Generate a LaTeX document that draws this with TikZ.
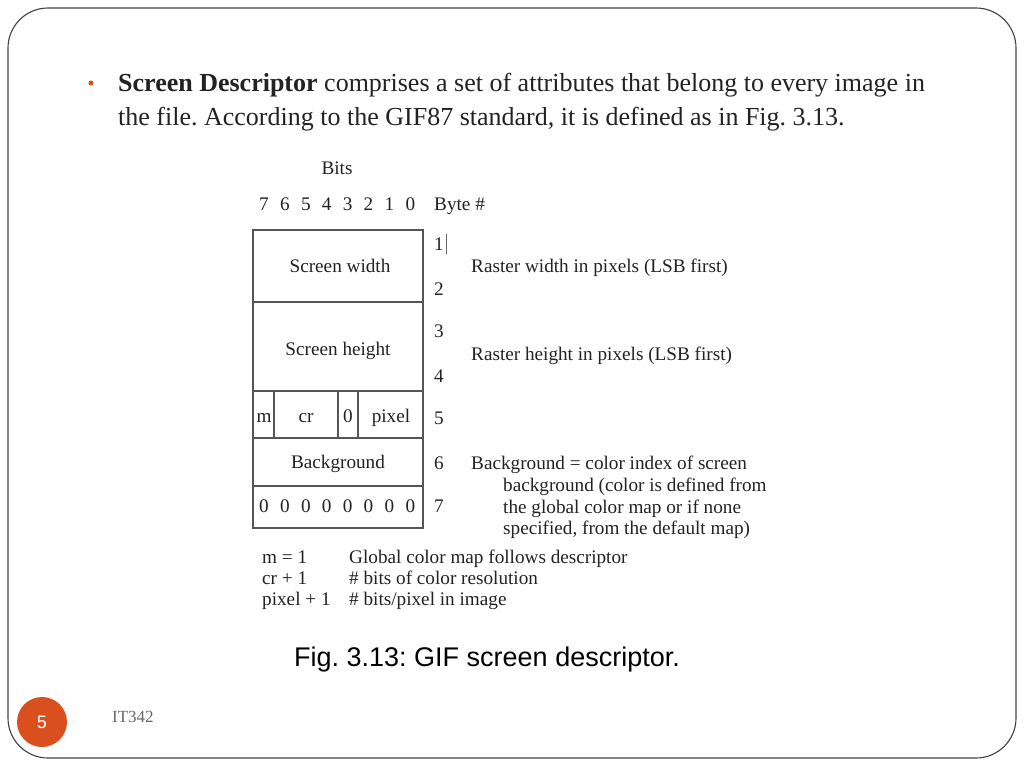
\documentclass[tikz,border=0pt]{standalone}
\usepackage{fontspec}
\setmainfont{Liberation Serif}
\newfontfamily\capfont{Liberation Sans}
\definecolor{accent}{HTML}{D9501E}
\definecolor{boxline}{HTML}{555555}
\definecolor{ink}{HTML}{222222}
\begin{document}
\frenchspacing
\begin{tikzpicture}[x=1pt,y=-1pt,
  body/.style={anchor=base west,inner sep=0pt,font=\fontsize{26}{30}\selectfont,text=ink},
  fig/.style={inner sep=0pt,font=\fontsize{19.2}{22}\selectfont,text=ink},
  cell/.style={draw=boxline,line width=1.3pt}]
\useasboundingbox (0,0) rectangle (1024,768);
% slide frame
\draw[rounded corners=40pt,draw=black!75,line width=1.1pt] (8,8) rectangle (1016,758);
% bullet text
\fill[accent] (91,83) circle (2.5);
\node[body] (l1) at (118,91) {\textbf{Screen Descriptor} comprises a set of attributes that belong to every image in};
\node[body] (l2) at (118,125) {the file. According to the GIF87 standard, it is defined as in Fig. 3.13.};
% header
\node[fig,anchor=mid] (bits) at (337,172) {Bits};
\foreach \b [count=\i from 0] in {7,6,5,4,3,2,1,0}
  \node[fig,anchor=mid] (h\i) at (264+20.9*\i,208) {\b};
\node[fig,anchor=mid west] (byte) at (434,208) {Byte \#};
% boxes
\draw[cell] (253,230) rectangle (423,302);
\draw[cell] (253,302) rectangle (423,391);
\draw[cell] (253,391) rectangle (423,438);
\draw[cell] (253,438) rectangle (423,486);
\draw[cell] (253,486) rectangle (423,528);
\draw[cell] (274,391) -- (274,438);
\draw[cell] (338,391) -- (338,438);
\draw[cell] (358,391) -- (358,438);
\node[fig,anchor=mid] (sw) at (340,270) {Screen width};
\node[fig,anchor=mid] (sh) at (338,353) {Screen height};
\node[fig,anchor=mid] (cm) at (264,420) {m};
\node[fig,anchor=mid] (ccr) at (306,420) {cr};
\node[fig,anchor=mid] (c0) at (348,420) {0};
\node[fig,anchor=mid] (cpx) at (391,420) {pixel};
\node[fig,anchor=mid] (bg) at (338,466) {Background};
\foreach \i in {0,...,7}
  \node[fig,anchor=mid] (z\i) at (264+20.9*\i,510) {0};
% byte numbers
\node[fig,anchor=mid west] (n1) at (434,248) {1};
\draw[black!60,line width=0.6pt] (446,234) -- (446,254);
\node[fig,anchor=mid west] (n2) at (434,293) {2};
\node[fig,anchor=mid west] (n3) at (434,335) {3};
\node[fig,anchor=mid west] (n4) at (434,380) {4};
\node[fig,anchor=mid west] (n5) at (434,422) {5};
\node[fig,anchor=mid west] (n6) at (434,467) {6};
\node[fig,anchor=mid west] (n7) at (434,510) {7};
% descriptions
\node[fig,anchor=mid west] (d1) at (471,270) {Raster width in pixels (LSB first)};
\node[fig,anchor=mid west] (d2) at (471,358) {Raster height in pixels (LSB first)};
\node[fig,anchor=mid west] (d3) at (471,467) {Background = color index of screen};
\node[fig,anchor=mid west] (d4) at (503,489) {background (color is defined from};
\node[fig,anchor=mid west] (d5) at (503,511) {the global color map or if none};
\node[fig,anchor=mid west] (d6) at (503,532) {specified, from the default map)};
% legend
\node[fig,anchor=mid west] (k1) at (262,561) {m = 1};
\node[fig,anchor=mid west] (v1) at (349,561) {Global color map follows descriptor};
\node[fig,anchor=mid west] (k2) at (262,582) {cr + 1};
\node[fig,anchor=mid west] (v2) at (349,582) {\# bits of color resolution};
\node[fig,anchor=mid west] (k3) at (262,603) {pixel + 1};
\node[fig,anchor=mid west] (v3) at (349,603) {\# bits/pixel in image};
% caption
\node[inner sep=0pt,anchor=mid,font=\capfont\fontsize{27}{32}\selectfont] (cap) at (487,664) {Fig. 3.13: GIF screen descriptor.};
% footer
\fill[accent] (42,722) circle (25);
\node[inner sep=0pt,text=white,font=\capfont\fontsize{18}{20}\selectfont] (pg) at (42,722) {5};
\node[inner sep=0pt,anchor=mid west,text=black!60,font=\fontsize{17}{18}\selectfont] (it) at (112,720) {IT342};
\end{tikzpicture}
\end{document}
